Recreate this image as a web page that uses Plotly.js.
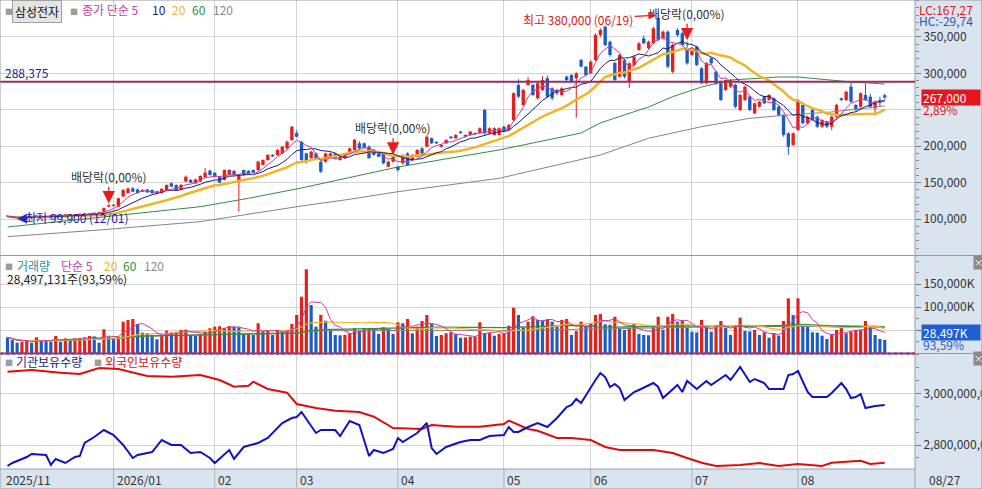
<!DOCTYPE html>
<html>
<head>
<meta charset="utf-8">
<script src="https://cdn.plot.ly/plotly-3.0.1.min.js"></script>
<style>
html,body{margin:0;padding:0;background:#fff;overflow:hidden;}
#chart{width:982px;height:489px;}
</style>
</head>
<body>
<div id="chart"></div>
<script>
// ===== DATA =====
// daily candles, prices in thousand KRW (2025/11/27 .. 2026/08/27)
const opens = [104.5,103.5,101.5,101,103,102.5,104,104.5,103,103.5,
105.5,104.5,105,106.5,105.5,106,107,106.5,107.5,108.5,
110,117,118,117,131,135.5,142,140.5,137.5,140.5,
139.8,138,135.5,139.8,149,146.7,140.5,151.5,153.6,149,
151.5,157.3,166.4,163.5,158,153.6,160.4,166,151.5,167.3,
166,167.3,167.3,174.2,181,188,188,190,197,208.5,
218,206,190,183.7,190,178.7,178.7,185,190,181,
183.5,192.5,194.8,204,204,199.4,194.8,192.5,190,171.8,
178.7,171.8,176.5,190,181,185.5,197,199.4,211,206,
199.4,204,213,211,220,215.4,215.4,218,218,249.7,
217.7,215.4,215.4,226.8,222.3,236,284,256.6,284.1,284.1,
265.8,277.2,293.3,279.5,277.2,270.3,295.5,297.8,293.3,318.4,
309.2,300.1,318.4,352.7,364,343.5,314.3,295.5,318.4,288.6,
311.5,332.1,348.2,334.5,341.3,376,348.2,357.3,302.3,359.6,
355,334.5,325.3,336.7,307,286.4,320.7,302.3,288.6,277.2,
281.8,284.1,249.7,263.5,268,245.2,254.2,268,263.5,265.8,
254.2,242.9,217.7,201.6,222.3,256.6,231.5,249.7,240.5,226.8,
233.7,226.8,240.5,265.8,263.5,281.8,256.6,254.2,270.3,268,
252,263.5,270];
const highs = [105.5,104,102.5,103.5,104,104.5,105,105,104,106,
106.5,105.5,107,107,106.5,107.5,108,108,109,110,
116,120,120.5,129,141,143,144,142,141,141.5,
140.5,139,142,147.5,150,147.5,148,160,155,155.5,
160,170,168,164.5,159,168,168.5,167.3,162,168,
167,168,180,182,189,189,196,200.5,207.5,228,
222,207,191,194,191.5,180,191,191.5,191,186.5,
191,198,210,207,205,201,196,194,191,180,
187,173,189,191.5,189,196,198.5,215,212,207,
203,209.5,214,216.5,221,216.5,221,219,226,251,
226,226,226,228,230.5,274,292,279,295,286,
290,296,297,281,279,281,297,299,301.5,320,
310.5,318,355,362,366,345,316,327,320,315,
324,343,352,345,364,380,359,359,341,362,
357,344,336,338,308.5,315.5,322,304,290,292,
292,286,272,283,269.5,260,262.5,269,271.5,267,
256,244,219,219,265,258,242,251,242,237.5,
235,242,258,267,276,288.6,258,274,286,272,
263,268,272];
const lows = [103,101.5,99.9,100.5,102,102,103,102.5,102.5,103,
104,103.5,104.5,105,104.5,105.5,106,106,107,108,
109,116,117,116,130,135,137,135,137,136,
134.5,134,135,139,144,139,140,151,149.5,148.5,
151,157,159.5,157,149,153,160,160,110,159.5,
161,163,166,173.5,180,185,187,189,196,207,
212,180,176,182,182,163,177,184,182.5,180,
183,192,194,196,197,183,187,185,175,171,
177.5,165,175,173,180,185,189,198,203,203,
198,203,210,210,217,212,214.5,215.5,217,216,
216.5,214.5,214.5,219,221.5,234,266,255,283,269,
264,276,266,263,270,268.5,289.5,287,239,308,
296,299,317,350,337,323,289,294,293,280,
310,331,340,333,340,344,346,307,300,350,
337,312,324,310,285,285,312,284,262,276,
280,252,248,262,248,244,253,258,262,248,
241,213,188,200,221,230,230,235,225,225,
225,222,239,262,262,260,248,252,262,253,
242,255,264];
const closes = [103.5,102,101,103,102.5,104,104.5,103,103.5,105.5,
104.5,105,106.5,105.5,106,107,106.5,107.5,108.5,109.5,
115,119,119.5,128.5,139.8,142,137.5,135.5,139.8,136.5,
135.5,135,141.5,146.7,144.5,139.8,147,158,150,154.5,
159,163.5,160.4,158,150,167.3,167.3,160.4,160.4,160.4,
162,163.5,178.7,181,188,186,194.8,199.4,206,226.8,
213,181,178.7,192.5,183.5,165,190,190,183.5,185.5,
190,197,208.5,197,197.5,183.5,188,185.5,176.5,178.7,
185.5,167.3,187.9,174.2,187.9,194.8,190,213,204,204,
201.6,208.5,211,215.4,218,213,220,216.5,224.6,217.7,
224.6,224.6,224.6,220,229.1,272.7,268,277.2,290.9,270.3,
286.4,290.9,268,265.8,272.7,279.5,290.9,288.6,300.1,309.2,
297.8,316.1,352.7,359.6,339,325.3,290.9,325.3,295.5,313.9,
322.9,341.3,341.3,343.5,362,346,357.3,309.2,339,352.7,
339,313.9,334.5,311.5,286.4,313.9,313.9,286.4,263.5,290.9,
290.9,254.2,270.3,281.8,249.7,258.9,261.2,258.9,270.3,249.7,
242.9,215.4,199.4,217.7,263.5,231.5,240.5,236,226.8,236,
226.8,240.5,256.6,263.5,274.9,261.2,249.7,272.7,263.5,254.2,
261.2,259.5,267];
// daily volume, million shares
const volumes = [34.1,28.3,22.4,24.6,26.7,22.4,34.1,26.7,26.0,24.6,
37.0,24.6,31.9,28.3,31.9,32.5,34.1,37.0,36.0,22.4,
51.5,35.4,31.9,35.4,68.1,71.7,73.9,63.0,44.1,42.8,
39.1,29.8,39.1,48.5,44.1,46.3,50.0,50.8,39.1,37.0,
41.3,46.3,53.7,57.2,58.0,53.7,58.5,57.2,56.0,42.8,
43.5,39.1,64.6,47.0,48.5,39.1,48.5,46.3,50.0,63.0,
82.6,122.4,182.0,104.4,57.2,82.6,70.2,51.5,39.1,38.5,
39.5,42.8,53.7,47.8,53.7,54.5,52.2,41.3,55.9,52.2,
41.3,66.7,64.6,73.9,42.8,57.2,69.6,82.6,64.6,37.0,
39.1,42.8,45.0,40.7,33.3,34.0,35.4,36.0,66.7,42.8,
43.5,37.6,41.3,42.8,59.4,98.5,82.6,55.0,68.1,79.8,
71.7,71.0,73.3,68.1,57.2,71.7,73.9,39.1,47.8,68.1,
57.2,64.6,82.6,84.8,62.4,61.5,78.9,53.7,50.0,53.7,
63.0,41.3,39.1,38.5,58.7,78.9,50.0,78.9,84.8,68.1,
69.6,55.0,46.3,45.0,71.7,55.0,46.3,60.9,69.6,55.0,
39.1,60.9,76.7,47.8,47.0,50.0,39.1,45.0,33.3,42.8,
37.6,69.6,118.9,82.6,118.9,59.4,57.2,45.0,44.3,37.6,
30.4,40.7,50.0,57.2,42.8,46.3,50.0,50.7,69.6,55.0,
39.1,30.449,28.497131];
// 60 / 120 day price averages (day index, thousand KRW)
const ma60Idx = [0,19,40,50,61,81,102,119,123,128,133,138,144,150,160,164,175,182];
const ma60Val = [89.0,102.7,116.9,128.4,142.6,171.4,194.8,218.1,231.9,243,253.8,268,281.3,290.9,295.0,295.0,288.2,285.4];
const ma120Idx = [0,19,40,61,71,81,102,123,133,144,154,162,171,182];
const ma120Val = [75.7,84.9,96.3,117.9,127.1,137.5,155.9,187.9,210.9,226.8,238.3,242.9,247.0,255.2];
// holdings, million shares
const foreignIdx = [0,5,11,15,19,23,29,34,40,44,47,50,51,54,58,60,64,68,73,76,80,86,88,93,98,103,104,108,110,114,117,121,124,127,134,138,141,144,147,152,156,160,164,169,171,177,179,182];
const foreignHold = [3083.5,3090.1,3079.7,3074.7,3097.9,3094.0,3066.9,3064.2,3070.8,3051.4,3025.5,3029.4,3044.9,3016.6,3002.3,2958.6,2943.1,2932.7,2927.7,2909.5,2865.8,2861.9,2877.4,2870.8,2870.8,2881.3,2894.0,2861.9,2855.3,2827.1,2827.1,2819.4,2792.3,2780.7,2780.7,2769.1,2749.8,2731.6,2718.8,2722.7,2730.4,2718.8,2726.5,2718.8,2731.6,2739.3,2726.5,2731.6];
const instIdx = [0,1,4,5,8,9,10,12,14,15,16,18,20,22,24,26,27,30,32,34,36,38,40,42,43,46,47,49,52,54,57,59,60,61,64,65,68,69,71,73,75,76,78,80,81,82,85,87,88,89,91,94,96,98,100,103,104,105,106,108,110,112,114,116,117,118,119,121,122,123,124,125,126,127,128,130,131,134,135,136,139,140,141,143,145,146,149,150,152,154,155,157,158,161,162,163,164,166,167,170,171,173,174,175,176,177,178,180,182];
const instHold = [2718.8,2730.4,2753.6,2765.2,2761.3,2722.7,2745.9,2730.4,2753.6,2757.5,2807.8,2831.0,2858.0,2838.7,2800.0,2749.8,2761.3,2772.9,2819.4,2800.0,2800.0,2769.1,2772.9,2749.8,2730.4,2780.7,2745.9,2792.3,2807.8,2827.1,2885.1,2904.5,2908.3,2927.7,2846.4,2858.0,2858.0,2834.8,2892.9,2877.4,2757.5,2780.7,2769.1,2784.6,2827.1,2811.7,2846.4,2885.1,2788.4,2765.2,2792.3,2811.7,2819.4,2819.4,2834.8,2838.7,2869.6,2850.3,2850.3,2869.6,2885.1,2869.6,2904.5,2947.0,2954.8,2978.0,2962.5,3024.4,3051.4,3078.5,3063.0,3024.4,3036.0,3020.5,2974.1,3005.0,3012.8,3039.8,3024.4,2981.8,3032.1,3005.0,3047.6,3016.6,3047.6,3032.1,3070.8,3051.4,3101.7,3043.7,3055.3,3039.8,3016.6,3016.6,3070.8,3074.7,3086.3,3005.0,2985.7,2985.7,3001.2,3039.8,3016.6,2981.8,2985.7,2997.3,2943.1,2950.8,2954.8];
// axis / labels
const monthIdx = [0,22,43,60,81,103,121,142,164];
const monthLabels = ['2025/11','2026/01','02','03','04','05','06','07','08'];
const lastDateLabel = '08/27';
const lowDate = '12/01', highDate = '06/19';
const exDivIdx = [21,80,141];
const exDivText = '배당락(0,00%)';
const refLevel = 288375;
const priceTicks = [100000,150000,200000,250000,300000,350000];
const volTicks = [50000,100000,150000];     // thousand shares
const holdTicks = [2800,3000];              // million shares

// ===== BUILD =====
const W = 982, H = 489, K = 1000;
const FONT = "'Noto Sans CJK KR','Liberation Sans',sans-serif";
const C = {up:'#e3211c', dn:'#1d5cc4', ma5:'#c23da8', ma10:'#1c1c6c', ma20:'#efb524', ma60:'#2f8f3f', ma120:'#858585',
           ref:'#9b2d5e', inst:'#1212c2', foreign:'#e00b0b', grid:'#d4d4d4', panel:'#d9e4ef', edge:'#8f9fb3'};
const N = closes.length;
const idx = closes.map((_, i) => i);
const fmt = v => Math.round(v).toLocaleString('en-US');
const fmtPct = v => v.toFixed(2).replace('.', ',');
function sma(a, n) {
  return a.map((_, i) => { const s = Math.max(0, i - n + 1); let t = 0; for (let j = s; j <= i; j++) t += a[j]; return t / (i - s + 1); });
}
const pyFrac = p => 1 - p / H;
const XR = 915 / W;

const upIds = idx.filter(i => closes[i] >= opens[i]);
const dnIds = idx.filter(i => closes[i] < opens[i]);
function bodies(ids, color) {
  return {type:'bar', x:ids, y:ids.map(i => Math.max(Math.abs(closes[i] - opens[i]) * K, 1200)),
    base:ids.map(i => Math.min(opens[i], closes[i]) * K), width:0.7,
    marker:{color:color, line:{width:0}}, xaxis:'x', yaxis:'y', hoverinfo:'skip'};
}
function wicks(ids, color) {
  const x = [], y = [];
  ids.forEach(i => { x.push(i, i, null); y.push(lows[i] * K, highs[i] * K, null); });
  return {type:'scatter', mode:'lines', x:x, y:y, line:{color:color, width:1}, xaxis:'x', yaxis:'y', hoverinfo:'skip'};
}
const line = (x, y, color, width, ya) => ({type:'scatter', mode:'lines', x:x, y:y, line:{color:color, width:width},
  xaxis:'x', yaxis:ya, hoverinfo:'skip'});

const closeW = closes.map(v => v * K);
const volK = volumes.map(v => v * K);
const volColors = volK.map((v, i) => (i > 0 && v > volK[i - 1]) ? C.up : C.dn);

const traces = [
  bodies(upIds, C.up), bodies(dnIds, C.dn),
  wicks(upIds, C.up), wicks(dnIds, C.dn),
  line(ma120Idx, ma120Val.map(v => v * K), C.ma120, 1, 'y'),
  line(ma60Idx, ma60Val.map(v => v * K), C.ma60, 1, 'y'),
  line(idx, sma(closeW, 20), C.ma20, 2.5, 'y'),
  line(idx, sma(closeW, 10), C.ma10, 1, 'y'),
  line(idx, sma(closeW, 5), C.ma5, 1, 'y'),
  {type:'bar', x:idx, y:volK, width:0.66, marker:{color:volColors, line:{width:0}}, xaxis:'x', yaxis:'y2', hoverinfo:'skip'},
  line(idx, sma(volK, 120), C.ma120, 1, 'y2'),
  line(idx, sma(volK, 60), C.ma60, 1.3, 'y2'),
  line(idx, sma(volK, 20), C.ma20, 1.2, 'y2'),
  line(idx, sma(volK, 5), C.ma5, 1, 'y2'),
  line(foreignIdx, foreignHold, C.foreign, 2, 'y3'),
  line(instIdx, instHold, C.inst, 2, 'y3')
];

// derived label values
const lastC = closes[N - 1], prevC = closes[N - 2];
const minLow = Math.min(...lows), maxHigh = Math.max(...highs);
const lowIdx = lows.indexOf(minLow), highIdx = highs.indexOf(maxHigh);
const lc = (lastC / minLow - 1) * 100, hc = (lastC / maxHigh - 1) * 100;
const chg = (lastC / prevC - 1) * 100;
const lastV = volumes[N - 1], prevV = volumes[N - 2];
const vRatio = lastV / prevV * 100;

const A = [];
function txt(t, xp, yp, color, extra) {
  A.push(Object.assign({xref:'paper', yref:'paper', x:xp / W, y:pyFrac(yp), xanchor:'left', yanchor:'middle',
    text:t, showarrow:false, font:{size:12, color:color}}, extra || {}));
}
const sq = (xp, yp) => txt('■', xp, yp, '#9c9c9c', {font:{size:8, color:'#9c9c9c'}});
// main legend
sq(3, 11);
txt('삼성전자', 12, 11, '#111', {bgcolor:'#e4e4e4', bordercolor:'#a0a0a0', borderwidth:1, borderpad:2});
sq(68, 11);
txt('종가 단순 5', 80, 10, C.ma5);
txt('10', 150, 10, C.ma10);
txt('20', 170, 10, '#e2b43a');
txt('60', 190, 10, C.ma60);
txt('120', 211, 10, '#8a8a8a');
// volume legend
sq(3, 266);
txt('거래량', 15, 265, '#2b8c9c');
txt('단순 5', 59, 265, C.ma5);
txt('20', 102, 265, '#e2b43a');
txt('60', 121, 265, C.ma60);
txt('120', 142, 265, '#8a8a8a');
txt(fmt(lastV * 1e6) + '주(' + fmtPct(vRatio) + '%)', 5, 278, '#222');
// holdings legend
sq(3, 362);
txt('기관보유수량', 14, 361, '#1a1a7a');
sq(92, 362);
txt('외국인보유수량', 103, 361, '#d01818');
// right column info
txt('LC:' + fmtPct(lc), 917, 9, '#e02020');
txt('HC:' + fmtPct(hc), 917, 21, '#2a55c0');
txt(lastDateLabel, 927, 479, '#333');
txt('×', 973, 262, '#fff', {font:{size:9, color:'#fff'}, bgcolor:'#8a8a8a', borderpad:0});
txt('×', 973, 358, '#fff', {font:{size:9, color:'#fff'}, bgcolor:'#8a8a8a', borderpad:0});
// last price / volume boxes
A.push({xref:'paper', yref:'y', x:921 / W, y:lastC * K, xanchor:'left', yanchor:'middle', text:fmt(lastC * K),
  showarrow:false, bgcolor:'#e8141c', font:{size:12, color:'#fff'}, width:56, height:13, align:'left', borderpad:1});
A.push({xref:'paper', yref:'y', x:921 / W, y:lastC * K, yshift:-12, xanchor:'left', yanchor:'middle',
  text:fmtPct(chg) + '%', showarrow:false, font:{size:12, color:'#e01010'}});
A.push({xref:'paper', yref:'y2', x:921 / W, y:lastV * K, yshift:7, xanchor:'left', yanchor:'middle', text:fmt(lastV * K) + 'K',
  showarrow:false, bgcolor:'#1f5fd1', font:{size:12, color:'#fff'}, width:56, height:13, align:'left', borderpad:1});
A.push({xref:'paper', yref:'y2', x:921 / W, y:lastV * K, yshift:-5, xanchor:'left', yanchor:'middle',
  text:fmtPct(vRatio) + '%', showarrow:false, font:{size:12, color:'#1f5fd1'}});
// ref level label
A.push({xref:'paper', yref:'y', x:3 / W, y:refLevel, yshift:9, xanchor:'left', yanchor:'middle', text:fmt(refLevel),
  showarrow:false, font:{size:12, color:'#1a1a8c'}});
// month labels
monthIdx.forEach((m, k) => A.push({xref:'x', yref:'paper', x:m, y:pyFrac(479), xanchor:'left', yanchor:'middle',
  xshift:k === 0 ? -4 : 1, text:monthLabels[k], showarrow:false, font:{size:12, color:'#333'}}));
// ex-dividend markers
exDivIdx.forEach(i => {
  A.push({xref:'x', yref:'y', x:i, y:highs[i] * K, text:'', showarrow:true, ax:0, ay:-19, arrowhead:2,
    arrowsize:1.9, arrowwidth:1.3, arrowcolor:'#e81c1c', standoff:1});
  A.push({xref:'x', yref:'y', x:i, y:highs[i] * K, yshift:28, text:exDivText, showarrow:false,
    xanchor:'center', yanchor:'middle', font:{size:12, color:'#333'}});
});
// high / low markers
A.push({xref:'x', yref:'y', x:highIdx, y:maxHigh * K, text:'최고 ' + fmt(maxHigh * K) + ' (' + highDate + ')',
  showarrow:true, ax:-80, ay:4, arrowhead:2, arrowsize:1.2, arrowwidth:1.3, arrowcolor:'#e81c1c', standoff:2,
  font:{size:12, color:'#d81818'}});
A.push({xref:'x', yref:'y', x:lowIdx, y:minLow * K, text:'최저 ' + fmt(minLow * K) + ' (' + lowDate + ')',
  showarrow:true, ax:60, ay:-2, arrowhead:2, arrowsize:1.3, arrowwidth:1.5, arrowcolor:'#1a2acc', standoff:0,
  font:{size:12, color:'#1c1cae'}});

const S = [
  {type:'rect', xref:'paper', yref:'paper', x0:XR, x1:1, y0:0, y1:1, fillcolor:C.panel, line:{width:0}, layer:'below'},
  {type:'rect', xref:'paper', yref:'paper', x0:0, x1:XR, y0:0, y1:pyFrac(469), fillcolor:C.panel, line:{width:0}, layer:'below'},
  {type:'line', xref:'paper', yref:'paper', x0:XR, x1:XR, y0:0, y1:1, line:{color:C.edge, width:1}},
  {type:'line', xref:'paper', yref:'paper', x0:0, x1:XR, y0:pyFrac(469), y1:pyFrac(469), line:{color:C.edge, width:1}},
  {type:'line', xref:'paper', yref:'paper', x0:0, x1:1, y0:pyFrac(255.5), y1:pyFrac(255.5), line:{color:'#9a9a9a', width:1}},
  {type:'line', xref:'paper', yref:'paper', x0:XR, x1:1, y0:pyFrac(353.5), y1:pyFrac(353.5), line:{color:'#9a9a9a', width:1}},
  {type:'line', xref:'paper', yref:'paper', x0:0, x1:XR, y0:pyFrac(353.5), y1:pyFrac(353.5), line:{color:'#2a5ad0', width:2}},
  {type:'line', xref:'paper', yref:'paper', x0:0, x1:XR, y0:pyFrac(353.5), y1:pyFrac(353.5), line:{color:'#e02020', width:2, dash:'3px,3px'}},
  {type:'line', xref:'paper', yref:'y', x0:0, x1:XR, y0:refLevel, y1:refLevel, line:{color:C.ref, width:2}},
  {type:'rect', xref:'paper', yref:'paper', x0:0, x1:1, y0:0, y1:1, line:{color:'#9a9a9a', width:1}}
];
monthIdx.slice(1).forEach(m => S.push({type:'line', xref:'x', yref:'paper', x0:m, x1:m, y0:0, y1:pyFrac(469),
  line:{color:'#a8b4c2', width:1}}));

const yCommon = {side:'right', anchor:'x', zeroline:false, showline:false, gridcolor:C.grid, gridwidth:1,
  ticks:'outside', ticklen:5, tickcolor:'#777', tickfont:{size:12, color:'#333', family:FONT}, fixedrange:true};
const layout = {
  width:W, height:H, margin:{l:0, r:0, t:0, b:0}, paper_bgcolor:'#fff', plot_bgcolor:'#fff',
  showlegend:false, barmode:'overlay', font:{family:FONT, size:12, color:'#222'}, hovermode:false,
  xaxis:{domain:[0, XR], range:[-7.5 / 4.82, (915 - 7.5) / 4.82], anchor:'y3', tickmode:'array',
    tickvals:monthIdx.slice(1), showticklabels:false, showgrid:true, gridcolor:C.grid, zeroline:false,
    showline:false, ticks:'', fixedrange:true},
  yaxis:Object.assign({}, yCommon, {domain:[pyFrac(255), 1], range:[50550, 400800], tickmode:'array',
    tickvals:priceTicks, ticktext:priceTicks.map(v => v === 250000 ? '' : fmt(v)),
    minor:{tickmode:'linear', tick0:0, dtick:10000, ticks:'outside', ticklen:3, tickcolor:'#888', showgrid:false}}),
  yaxis2:Object.assign({}, yCommon, {domain:[pyFrac(353), pyFrac(256)], range:[0, 210900], tickmode:'array',
    tickvals:volTicks, ticktext:volTicks.map(v => fmt(v) + 'K'),
    minor:{tickmode:'linear', tick0:0, dtick:25000, ticks:'outside', ticklen:3, tickcolor:'#888', showgrid:false}}),
  yaxis3:Object.assign({}, yCommon, {domain:[pyFrac(469), pyFrac(354)], range:[2707.2, 3152], tickmode:'array',
    tickvals:holdTicks, ticktext:holdTicks.map(v => fmt(v * 1e6)),
    minor:{tickmode:'linear', tick0:0, dtick:50, ticks:'outside', ticklen:3, tickcolor:'#888', showgrid:false}}),
  shapes:S, annotations:A
};
Plotly.newPlot('chart', traces, layout, {staticPlot:true, displayModeBar:false});
</script>
</body>
</html>
